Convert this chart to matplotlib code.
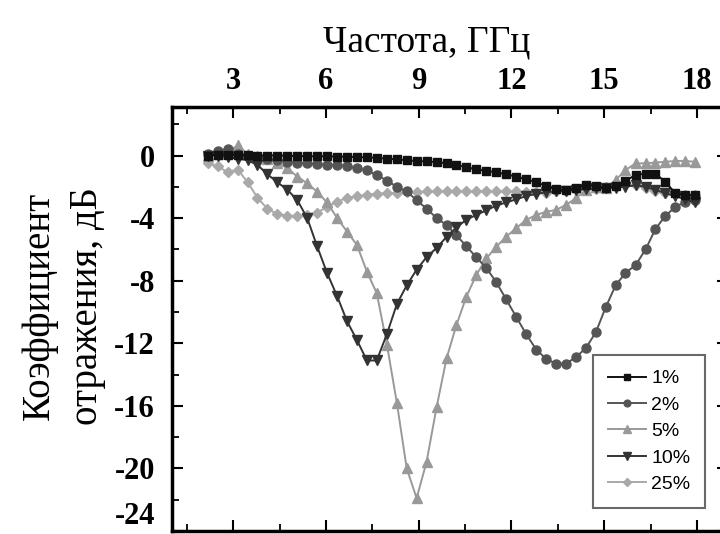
import numpy as np
import matplotlib
matplotlib.use("Agg")
import matplotlib.pyplot as plt
from matplotlib.ticker import MultipleLocator

plt.rcParams['axes.unicode_minus'] = False

# frequency points, GHz
freq = [2.17, 2.49, 2.81, 3.14, 3.46, 3.78, 4.10, 4.42, 4.75, 5.07,
        5.39, 5.71, 6.03, 6.36, 6.68, 7.00, 7.32, 7.64, 7.97, 8.29,
        8.61, 8.93, 9.25, 9.58, 9.90, 10.22, 10.54, 10.86, 11.19, 11.51,
        11.83, 12.15, 12.47, 12.80, 13.12, 13.44, 13.76, 14.08, 14.41, 14.73,
        15.05, 15.37, 15.69, 16.02, 16.34, 16.66, 16.98, 17.30, 17.63, 17.95]

# reflection coefficient, dB
r1 = [0.0, 0.05, 0.05, 0.05, 0.05, 0.0, 0.0, 0.0, -0.02, -0.03,
      -0.05, -0.05, -0.05, -0.07, -0.08, -0.1, -0.12, -0.15, -0.2, -0.25,
      -0.3, -0.35, -0.38, -0.42, -0.5, -0.6, -0.75, -0.88, -0.98, -1.08,
      -1.2, -1.35, -1.52, -1.7, -1.95, -2.15, -2.2, -2.1, -1.9, -1.95,
      -2.05, -1.95, -1.6, -1.25, -1.15, -1.15, -1.7, -2.4, -2.5, -2.55]
r2 = [0.1, 0.3, 0.4, 0.1, 0.0, -0.1, -0.2, -0.3, -0.4, -0.45,
      -0.5, -0.55, -0.6, -0.6, -0.7, -0.8, -0.95, -1.25, -1.6, -2.0,
      -2.3, -2.85, -3.4, -4.0, -4.45, -5.1, -5.8, -6.5, -7.2, -8.1,
      -9.2, -10.3, -11.4, -12.4, -13.0, -13.3, -13.3, -12.9, -12.3, -11.3,
      -9.7, -8.3, -7.5, -7.0, -6.0, -4.7, -3.85, -3.3, -2.95, -2.85]
r5 = [0.0, 0.1, 0.2, 0.65, 0.1, 0.0, -0.2, -0.45, -0.82, -1.35,
      -1.78, -2.31, -3.0, -4.0, -4.87, -5.72, -7.42, -8.8, -12.1, -15.8,
      -20.0, -21.9, -19.6, -16.05, -12.96, -10.83, -9.02, -7.64, -6.57, -5.83,
      -5.19, -4.65, -4.12, -3.8, -3.59, -3.48, -3.16, -2.74, -2.2, -2.0,
      -2.05, -1.57, -0.93, -0.5, -0.5, -0.45, -0.4, -0.35, -0.35, -0.4]
r10 = [0.0, 0.0, -0.1, -0.2, -0.3, -0.6, -1.2, -1.7, -2.2, -2.85,
       -4.0, -5.8, -7.5, -9.0, -10.6, -11.8, -13.1, -13.1, -11.4, -9.5,
       -8.3, -7.3, -6.5, -5.9, -5.2, -4.6, -4.1, -3.8, -3.5, -3.2,
       -3.0, -2.8, -2.6, -2.45, -2.35, -2.3, -2.25, -2.2, -2.15, -2.1,
       -2.1, -2.05, -2.0, -1.9, -2.0, -2.2, -2.4, -2.6, -2.8, -3.0]
r25 = [-0.5, -0.7, -1.05, -0.9, -1.7, -2.7, -3.4, -3.75, -3.85, -3.85,
       -3.8, -3.65, -3.3, -2.95, -2.7, -2.6, -2.5, -2.45, -2.4, -2.4,
       -2.35, -2.35, -2.3, -2.3, -2.3, -2.3, -2.3, -2.3, -2.3, -2.3,
       -2.3, -2.3, -2.35, -2.35, -2.4, -2.3, -2.25, -2.2, -2.1, -2.15,
       -2.0, -1.95, -1.8, -1.9, -2.1, -2.3, -2.4, -2.45, -2.5, -2.5]

labels = ['1%', '2%', '5%', '10%', '25%']
series = [r1, r2, r5, r10, r25]
colors = ['#111111', '#555555', '#999999', '#333333', '#a9a9a9']
markers = ['s', 'o', '^', 'v', 'D']
msizes = [6, 6.5, 7.5, 7.5, 5.5]
zorders = [6, 4, 3, 5, 2]

fig = plt.figure(figsize=(7.2, 5.34), dpi=100)
ax = fig.add_axes([0.2383, 0.0056, 0.7725, 0.794])

for y, lab, c, m, ms, z in zip(series, labels, colors, markers, msizes, zorders):
    ax.plot(freq, y, color=c, marker=m, markersize=ms, markeredgecolor=c,
            linewidth=1.4, label=lab, zorder=z)

ax.set_xlim(1.0, 19.0)
ax.set_ylim(-24.0, 3.1)
ax.xaxis.set_minor_locator(MultipleLocator(1.5))
ax.yaxis.set_minor_locator(MultipleLocator(2))
ax.set_xticks([3, 6, 9, 12, 15, 18])
ax.set_yticks([0, -4, -8, -12, -16, -20, -24])

ax.tick_params(which='both', direction='in', top=True, bottom=True,
               left=True, right=True, labeltop=True, labelbottom=False)
ax.tick_params(which='major', length=8, width=1.5)
ax.tick_params(which='minor', length=5, width=1.3)
ax.tick_params(axis='x', pad=8)
ax.tick_params(axis='y', pad=12)
for lab in ax.get_xticklabels() + ax.get_yticklabels():
    lab.set_fontfamily('Liberation Serif')
    lab.set_fontweight('bold')
    lab.set_fontsize(22)
# lowest label sits above its tick in the original
ax.get_yticklabels()[-1].set_verticalalignment('bottom')
for sp in ax.spines.values():
    sp.set_linewidth(2.5)

ax.xaxis.set_label_position('top')
ax.set_xlabel('Частота, ГГц', family='Liberation Serif', fontsize=27)
ax.xaxis.set_label_coords(0.459, 1.132)
ax.set_ylabel('Коэффициент\nотражения, дБ', family='Liberation Serif',
              fontsize=28, linespacing=1.4)
ax.yaxis.set_label_coords(-0.118, 0.53)

leg = ax.legend(loc='lower right', bbox_to_anchor=(0.959, 0.0554),
                borderaxespad=0, prop={'family': 'Liberation Sans', 'size': 14},
                handlelength=2.0, labelspacing=0.45, handletextpad=0.25,
                borderpad=0.75, fancybox=False, markerscale=0.75)
leg.get_frame().set_edgecolor('#444444')
leg.get_frame().set_linewidth(1.5)

fig.savefig('out.png', dpi=100)
